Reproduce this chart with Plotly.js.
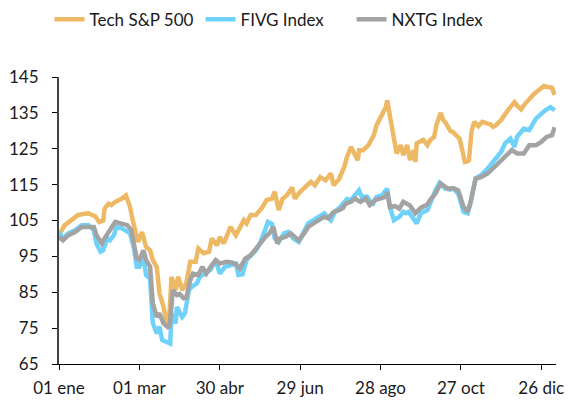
<!DOCTYPE html>
<html>
<head>
<meta charset="utf-8">
<script src="https://cdn.plot.ly/plotly-3.0.1.min.js"></script>
<style>html,body{margin:0;padding:0;background:#fff;}#chart{width:569px;height:400px;}</style>
</head>
<body>
<div id="chart"></div>
<script>
const seriesNames = ["Tech S&P 500", "FIVG Index", "NXTG Index"];

const techDates = ["2020-01-01","2020-01-02","2020-01-05","2020-01-08","2020-01-15","2020-01-19","2020-01-23","2020-01-28","2020-01-31","2020-02-03","2020-02-04","2020-02-07","2020-02-09","2020-02-12","2020-02-17","2020-02-20","2020-02-23","2020-02-25","2020-02-29","2020-03-03","2020-03-06","2020-03-09","2020-03-11","2020-03-14","2020-03-16","2020-03-19","2020-03-21","2020-03-23","2020-03-25","2020-03-28","2020-03-30","2020-04-02","2020-04-05","2020-04-08","2020-04-12","2020-04-14","2020-04-18","2020-04-22","2020-04-24","2020-04-28","2020-04-30","2020-05-03","2020-05-08","2020-05-12","2020-05-14","2020-05-18","2020-05-20","2020-05-23","2020-05-27","2020-06-01","2020-06-04","2020-06-08","2020-06-10","2020-06-13","2020-06-16","2020-06-19","2020-06-23","2020-06-25","2020-06-29","2020-07-03","2020-07-07","2020-07-10","2020-07-14","2020-07-18","2020-07-22","2020-07-24","2020-07-28","2020-08-01","2020-08-03","2020-08-06","2020-08-08","2020-08-11","2020-08-12","2020-08-15","2020-08-19","2020-08-23","2020-08-25","2020-08-29","2020-09-01","2020-09-02","2020-09-04","2020-09-07","2020-09-09","2020-09-12","2020-09-14","2020-09-17","2020-09-19","2020-09-22","2020-09-23","2020-09-24","2020-09-27","2020-09-29","2020-10-02","2020-10-04","2020-10-07","2020-10-09","2020-10-12","2020-10-14","2020-10-16","2020-10-19","2020-10-21","2020-10-24","2020-10-26","2020-10-28","2020-10-30","2020-11-01","2020-11-02","2020-11-04","2020-11-06","2020-11-09","2020-11-12","2020-11-16","2020-11-18","2020-11-20","2020-11-22","2020-11-26","2020-11-29","2020-12-01","2020-12-03","2020-12-06","2020-12-08","2020-12-11","2020-12-14","2020-12-18","2020-12-21","2020-12-24","2020-12-26","2020-12-28","2020-12-31","2021-01-03","2021-01-05"];
const techValues = [101,101.5,103.6,104.5,106.5,106.8,107,106.2,104.6,105,108.3,109.7,109.3,110.2,111.1,112,108.8,105.1,99,101.8,97.6,96.7,94,92,84.7,81,77.2,76,89.3,85.6,89.3,85.6,87.5,93.5,93.5,97.2,95.9,96.3,100,98.1,100.4,98.6,103.2,100.9,102.3,105.1,104.2,106.5,106.5,108.8,110.7,111.1,113,107.9,111.1,112,114.2,111.1,113,114.4,115.8,114.8,117.1,116.2,118.1,114.8,116.5,120,122.7,125.5,124.1,121.8,124.6,124.6,126,128.8,131.5,134.8,136.6,138.5,133.9,127,123.7,126,123.2,126,121.8,124.6,121.3,126.5,126.9,127.5,126,127.4,128.3,132,135,132.9,132,130,129.7,128.5,127.8,124.6,121.3,121.5,121.8,130,132.5,131.3,132.5,132,131.8,131.1,131.5,133,134.8,135.7,136.6,138,137,136,137.6,139.4,140.4,141.3,141.8,142.5,142.2,142,140];

const fivgDates = ["2020-01-01","2020-01-04","2020-01-08","2020-01-13","2020-01-18","2020-01-23","2020-01-27","2020-01-29","2020-02-01","2020-02-03","2020-02-06","2020-02-08","2020-02-11","2020-02-13","2020-02-17","2020-02-21","2020-02-23","2020-02-26","2020-02-28","2020-03-01","2020-03-04","2020-03-06","2020-03-09","2020-03-11","2020-03-14","2020-03-16","2020-03-18","2020-03-21","2020-03-24","2020-03-25","2020-03-28","2020-03-29","2020-04-02","2020-04-04","2020-04-07","2020-04-09","2020-04-13","2020-04-15","2020-04-19","2020-04-23","2020-04-27","2020-04-30","2020-05-04","2020-05-08","2020-05-12","2020-05-14","2020-05-17","2020-05-20","2020-05-23","2020-05-27","2020-05-30","2020-06-03","2020-06-05","2020-06-08","2020-06-10","2020-06-13","2020-06-17","2020-06-20","2020-06-24","2020-06-28","2020-07-02","2020-07-05","2020-07-09","2020-07-13","2020-07-17","2020-07-22","2020-07-25","2020-07-29","2020-08-01","2020-08-03","2020-08-06","2020-08-09","2020-08-12","2020-08-14","2020-08-18","2020-08-22","2020-08-25","2020-08-29","2020-09-02","2020-09-04","2020-09-07","2020-09-09","2020-09-11","2020-09-14","2020-09-16","2020-09-18","2020-09-22","2020-09-24","2020-09-27","2020-09-29","2020-10-02","2020-10-04","2020-10-06","2020-10-08","2020-10-11","2020-10-15","2020-10-19","2020-10-21","2020-10-25","2020-10-29","2020-11-01","2020-11-03","2020-11-07","2020-11-11","2020-11-16","2020-11-21","2020-11-26","2020-11-29","2020-12-03","2020-12-06","2020-12-08","2020-12-13","2020-12-17","2020-12-22","2020-12-26","2020-12-29","2021-01-02","2021-01-05"];
const fivgValues = [101.8,100,101.4,102.3,103.7,103.7,102.3,98.6,96.3,96.7,100,99.5,100.9,103.2,102.8,101.8,101.4,97.2,92.1,92.1,94.9,89.8,88.8,76.5,73.5,75.4,71.7,71.2,70.7,79.1,76.3,80.9,78.1,79.1,85.6,86.5,87.5,89.3,90.2,91.2,94,90.2,92.1,92.5,93,89.8,90,94,95.3,96.7,98.6,102.3,104.6,104,100,99,101.4,101.8,100,99,102.3,104.2,105.1,106,107,105.1,107.4,108.8,110.2,111,110.7,112,113.4,111.6,111.6,109.3,111.6,112,113.9,108.8,105.1,105.6,106,107.4,107,107.4,105.1,104.2,107,107.4,107.9,109.7,112,113.4,115.5,114,113.6,114,112.5,107.4,107,109.7,116.7,117.6,119.5,121.8,124.1,126.5,127.8,125.5,128.3,130.6,130.2,133.4,134.8,135.7,136.6,135.7];

const nxtgDates = ["2020-01-01","2020-01-04","2020-01-08","2020-01-13","2020-01-18","2020-01-23","2020-01-27","2020-01-29","2020-02-02","2020-02-04","2020-02-07","2020-02-09","2020-02-12","2020-02-16","2020-02-21","2020-02-24","2020-02-28","2020-03-01","2020-03-04","2020-03-06","2020-03-09","2020-03-11","2020-03-14","2020-03-16","2020-03-19","2020-03-23","2020-03-24","2020-03-26","2020-03-29","2020-03-31","2020-04-03","2020-04-05","2020-04-08","2020-04-10","2020-04-14","2020-04-17","2020-04-20","2020-04-24","2020-04-27","2020-04-30","2020-05-05","2020-05-09","2020-05-13","2020-05-15","2020-05-19","2020-05-23","2020-05-27","2020-05-30","2020-06-03","2020-06-06","2020-06-09","2020-06-12","2020-06-14","2020-06-18","2020-06-22","2020-06-25","2020-06-28","2020-07-02","2020-07-05","2020-07-09","2020-07-13","2020-07-17","2020-07-20","2020-07-24","2020-07-28","2020-07-31","2020-08-02","2020-08-06","2020-08-09","2020-08-13","2020-08-17","2020-08-20","2020-08-24","2020-08-28","2020-09-01","2020-09-02","2020-09-04","2020-09-08","2020-09-11","2020-09-14","2020-09-19","2020-09-23","2020-09-27","2020-10-02","2020-10-04","2020-10-08","2020-10-12","2020-10-17","2020-10-22","2020-10-25","2020-10-29","2020-11-01","2020-11-03","2020-11-07","2020-11-11","2020-11-16","2020-11-21","2020-11-26","2020-12-01","2020-12-04","2020-12-08","2020-12-13","2020-12-17","2020-12-22","2020-12-26","2020-12-30","2021-01-03","2021-01-05"];
const nxtgValues = [100.4,99.5,100.9,101.8,103.2,103.2,103.2,100.9,98.6,100,101.8,102.8,104.6,104.2,103.7,102.3,94.4,94,96.7,94,92.1,82,78.1,79.1,76.3,75,77.2,85.6,84.2,84.5,83.3,83.5,88.4,90.2,89.8,92.1,90.2,92.5,94,93,93.5,93.3,92.5,91.6,94.4,95.3,97.2,98.6,100.4,101.4,103.2,98.6,100,100.4,101.4,100.4,99.5,101.4,103.2,104.2,105.1,106,105.6,107.4,107.9,108.5,109.7,110.2,111.1,110.2,111.1,109.3,110.7,111.1,111.6,113,108.8,109,108.3,110.2,109.2,107,108.5,109.5,110.7,112.5,115.3,113.9,113.9,113.4,108.8,107.4,109.7,116.7,117.1,118.1,119.9,121.3,123.2,124.6,123.7,123.7,126,126,126.9,128.3,128.8,131];

const tickDates = ["2020-01-01","2020-03-01","2020-04-30","2020-06-29","2020-08-28","2020-10-27","2020-12-26"];
const tickLabels = ["01 ene","01 mar","30 abr","29 jun","28 ago","27 oct","26 dic"];

const colors = ["#EDB964", "#6ED2FB", "#A3A3A3"];
const xs = [techDates, fivgDates, nxtgDates];
const ys = [techValues, fivgValues, nxtgValues];

const traces = seriesNames.map((name, i) => ({
  type: "scatter",
  mode: "lines",
  name: name,
  x: xs[i],
  y: ys[i],
  line: {color: colors[i], width: 4.5}
}));

const font = {family: "Lato, 'Liberation Sans', sans-serif", size: 17, color: "#1a1a1a"};

const layout = {
  width: 569,
  height: 400,
  margin: {l: 59, r: 13, t: 77, b: 36, autoexpand: false},
  paper_bgcolor: "#fff",
  plot_bgcolor: "#fff",
  font: font,
  showlegend: true,
  legend: {
    orientation: "h",
    x: -0.019,
    xanchor: "left",
    y: 1.2,
    yanchor: "middle",
    font: font,
    itemwidth: 30,
    entrywidth: 106,
    entrywidthmode: "pixels",
    tracegroupgap: 0
  },
  xaxis: {
    type: "date",
    range: ["2020-01-01", "2021-01-06"],
    tickmode: "array",
    tickvals: tickDates,
    ticktext: tickLabels,
    ticks: "outside",
    ticklen: 5,
    tickcolor: "#000",
    showline: true,
    linecolor: "#000",
    linewidth: 1,
    showgrid: false,
    zeroline: false,
    tickfont: font,
    ticklabelstandoff: 4
  },
  yaxis: {
    range: [65, 145],
    tickmode: "linear",
    tick0: 65,
    dtick: 10,
    ticks: "outside",
    ticklen: 5,
    tickcolor: "#000",
    showline: true,
    linecolor: "#444",
    linewidth: 2,
    showgrid: false,
    zeroline: false,
    tickfont: font,
    ticklabelstandoff: 10
  }
};

Plotly.newPlot("chart", traces, layout, {displayModeBar: false, staticPlot: true});
</script>
</body>
</html>
